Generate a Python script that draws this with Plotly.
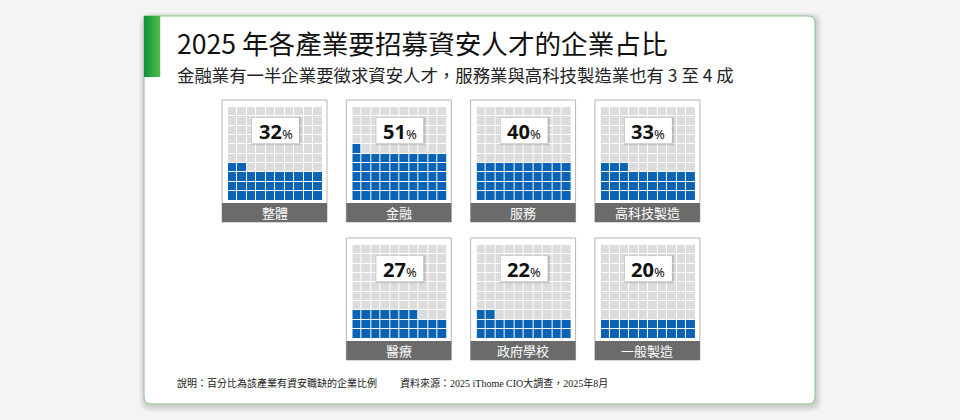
import plotly.graph_objects as go

W, H = 960, 420

categories = ['整體', '金融', '服務', '高科技製造', '醫療', '政府學校', '一般製造']
percent = [32, 51, 40, 33, 27, 22, 20]
# (列, 欄) of each panel in the layout
slots = [(0, 0), (0, 1), (0, 2), (0, 3), (1, 1), (1, 2), (1, 3)]

title = '2025 年各產業要招募資安人才的企業占比'
subtitle = '金融業有一半企業要徵求資安人才，服務業與高科技製造業也有 3 至 4 成'
note = '說明：百分比為該產業有資安職缺的企業比例'
source = '資料來源：2025 iThome CIO大調查，2025年8月'

BLUE = '#0b63b6'
EMPTY = '#dcdcdc'
CJK = 'Noto Sans CJK TC'


def px(x):
    return x / W


def py(y):
    return 1 - y / H


def round_rect(x0, y0, x1, y1, r, square_tl=False):
    # rounded rectangle path in paper coords, input in pixels
    rx, ry = r / W, r / H
    a, b, c, d = px(x0), py(y0), px(x1), py(y1)
    if square_tl:
        p = f'M{a},{b} '
    else:
        p = f'M{a},{b - ry} Q{a},{b} {a + rx},{b} '
    p += f'L{c - rx},{b} Q{c},{b} {c},{b - ry} '
    p += f'L{c},{d + ry} Q{c},{d} {c - rx},{d} '
    p += f'L{a + rx},{d} Q{a},{d} {a},{d + ry} Z'
    return p


fig = go.Figure()
shapes = []
annotations = []

# card shadow
for k in range(6, 0, -1):
    shapes.append(dict(type='path', xref='paper', yref='paper', layer='below',
                       path=round_rect(144 - k + 1, 16 - k + 2, 815 + k + 1, 404 + k + 2, 6 + k),
                       fillcolor='rgba(0,0,0,0.025)', line=dict(width=0)))
# card
shapes.append(dict(type='path', xref='paper', yref='paper', layer='below',
                   path=round_rect(144, 16, 815, 404, 7, square_tl=True),
                   fillcolor='white', line=dict(color='#86c486', width=1)))
# green accent bar (gradient)
greens = ['#17933a', '#1c983c', '#22a03f', '#2aa641', '#33ab43', '#3cb045', '#45b447', '#4fb849']
for i, g in enumerate(greens):
    shapes.append(dict(type='rect', xref='paper', yref='paper', layer='below',
                       x0=px(144 + i * 2), x1=px(144 + i * 2 + 2.2), y0=py(77), y1=py(16),
                       fillcolor=g, line=dict(width=0)))

annotations.append(dict(text=title, x=px(175), y=py(43), xref='paper', yref='paper',
                        xanchor='left', yanchor='middle', showarrow=False,
                        font=dict(family=CJK, size=26.6, color='#111111')))
annotations.append(dict(text=subtitle, x=px(175), y=py(74), xref='paper', yref='paper',
                        xanchor='left', yanchor='middle', showarrow=False,
                        font=dict(family=CJK, size=17.4, color='#222222')))

for i, (cat, pct) in enumerate(zip(categories, percent)):
    row, col = slots[i]
    x0 = 222 + col * 124.3
    y0 = 100 + row * 138
    n = '' if i == 0 else str(i + 1)

    # frame and label bar
    shapes.append(dict(type='rect', xref='paper', yref='paper', layer='below',
                       x0=px(x0), x1=px(x0 + 105), y0=py(y0 + 122), y1=py(y0),
                       fillcolor='white', line=dict(color='#b5b5b5', width=1)))
    shapes.append(dict(type='rect', xref='paper', yref='paper', layer='below',
                       x0=px(x0), x1=px(x0 + 105), y0=py(y0 + 122), y1=py(y0 + 103),
                       fillcolor='#6b6b6b', line=dict(width=0)))
    annotations.append(dict(text=cat, x=px(x0 + 52.5), y=py(y0 + 112.5), xref='paper', yref='paper',
                            xanchor='center', yanchor='middle', showarrow=False,
                            font=dict(family=CJK, size=13, color='white')))

    # waffle: fill from bottom row, left to right
    z = [[1 if r * 10 + c < pct else 0 for c in range(10)] for r in range(10)]
    fig.add_trace(go.Heatmap(z=z, xaxis='x' + n, yaxis='y' + n, zmin=0, zmax=1,
                             colorscale=[[0, EMPTY], [1, BLUE]], showscale=False,
                             xgap=1, ygap=1, hoverinfo='skip'))
    fig.layout['xaxis' + n] = dict(domain=[px(x0 + 6), px(x0 + 100.5)], anchor='y' + n,
                                   range=[-0.5, 9.5], visible=False, fixedrange=True)
    fig.layout['yaxis' + n] = dict(domain=[py(y0 + 100.5), py(y0 + 7)], anchor='x' + n,
                                   range=[-0.5, 9.5], visible=False, fixedrange=True)

    # percentage box
    bx0, bx1, by0, by1 = x0 + 30, x0 + 77, y0 + 18, y0 + 43
    for k, a in ((2.5, 0.07), (1.5, 0.10)):
        shapes.append(dict(type='rect', xref='paper', yref='paper', layer='above',
                           x0=px(bx0 - 0.5), x1=px(bx1 + k), y0=py(by1 + k), y1=py(by0 - 0.5),
                           fillcolor=f'rgba(0,0,0,{a})', line=dict(width=0)))
    shapes.append(dict(type='rect', xref='paper', yref='paper', layer='above',
                       x0=px(bx0), x1=px(bx1), y0=py(by1), y1=py(by0),
                       fillcolor='white', line=dict(width=0)))
    annotations.append(dict(text=f"<b>{pct}</b><span style='font-size:13px'>%</span>",
                            x=px((bx0 + bx1) / 2), y=py((by0 + by1) / 2 + 0.5),
                            xref='paper', yref='paper', xanchor='center', yanchor='middle',
                            showarrow=False, font=dict(family='Noto Sans', size=20, color='#111111')))

footer_font = dict(family='Liberation Serif, ' + CJK, size=10, color='#1a1a1a')
annotations.append(dict(text=note, x=px(175), y=py(383), xref='paper', yref='paper',
                        xanchor='left', yanchor='middle', showarrow=False, font=footer_font))
annotations.append(dict(text=source, x=px(398), y=py(383), xref='paper', yref='paper',
                        xanchor='left', yanchor='middle', showarrow=False, font=footer_font))

fig.update_layout(width=W, height=H, margin=dict(l=0, r=0, t=0, b=0),
                  paper_bgcolor='#f4f4f4', plot_bgcolor='white',
                  shapes=shapes, annotations=annotations, showlegend=False)

# the page's default body margin would shift the figure by 8px
fig.write_html('out.html', config={'displayModeBar': False},
               post_script="document.body.style.margin='0';document.body.style.overflow='hidden';")
